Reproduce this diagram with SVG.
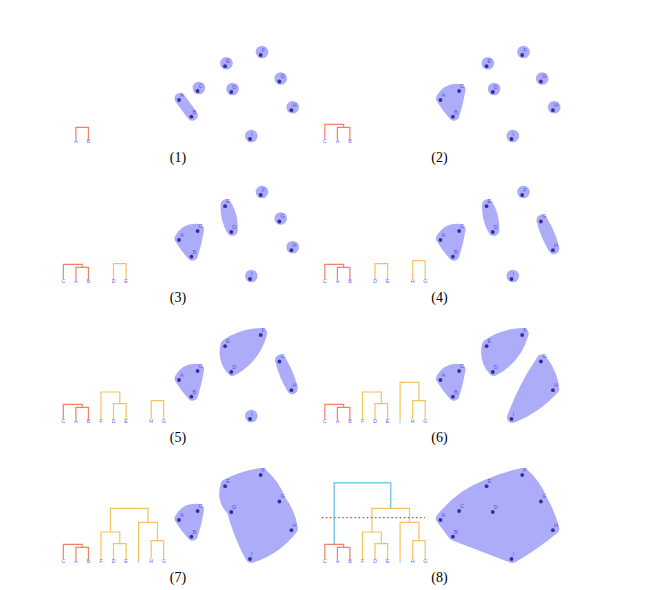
<svg xmlns="http://www.w3.org/2000/svg" width="649" height="590" viewBox="0 0 649 590">
<style>
.hull{fill:#acacf8;stroke:#acacf8;stroke-width:11;stroke-linejoin:round;stroke-linecap:round}
.single{fill:#acacf8}
.dot{fill:#30309a}
.pl{font-family:"Liberation Sans",Arial,sans-serif;font-size:5.6px;fill:#5252f2}
.lf{font-family:"Liberation Sans",Arial,sans-serif;font-size:5.2px;fill:#6464ff;text-anchor:middle}
.red{fill:none;stroke:#f08068;stroke-width:1.2}
.org{fill:none;stroke:#f2c35e;stroke-width:1.2}
.blu{fill:none;stroke:#7ec8ee;stroke-width:1.5}
.cut{fill:none;stroke:#e03a3a;stroke-width:1.3;stroke-dasharray:1.5 2.6}
.cap{font-family:"Liberation Serif","Times New Roman",serif;font-size:14px;fill:#000;text-anchor:middle}
</style>
<rect width="649" height="590" fill="#fff"/>

<!-- Panel 1 -->
<g id="panel1">
<g id="p1-clusters">
<path class="hull" d="M180 98.5 L192.4 115.2 Z"/>
<circle class="single" cx="198.9" cy="88" r="6.3"/>
<circle class="single" cx="232.6" cy="89" r="6.3"/>
<circle class="single" cx="226.4" cy="63.2" r="6.3"/>
<circle class="single" cx="262" cy="52" r="6.3"/>
<circle class="single" cx="280.7" cy="78.5" r="6.3"/>
<circle class="single" cx="292.7" cy="107.2" r="6.3"/>
<circle class="single" cx="251.3" cy="136" r="6.3"/>
</g>
<g id="p1-points">
<circle class="dot" cx="179" cy="100" r="1.9"/><text class="pl" x="180" y="96.9">A</text>
<circle class="dot" cx="191.4" cy="116.7" r="1.9"/><text class="pl" x="192.4" y="113.6">B</text>
<circle class="dot" cx="197.6" cy="91" r="1.9"/><text class="pl" x="198.6" y="87.9">C</text>
<circle class="dot" cx="231.3" cy="92" r="1.9"/><text class="pl" x="232.3" y="88.9">D</text>
<circle class="dot" cx="225.1" cy="66.2" r="1.9"/><text class="pl" x="226.1" y="63.1">E</text>
<circle class="dot" cx="260.7" cy="55" r="1.9"/><text class="pl" x="261.7" y="51.9">F</text>
<circle class="dot" cx="279.4" cy="81.5" r="1.9"/><text class="pl" x="280.4" y="78.4">G</text>
<circle class="dot" cx="291.4" cy="110.2" r="1.9"/><text class="pl" x="292.4" y="107.1">H</text>
<circle class="dot" cx="250" cy="139" r="1.9"/><text class="pl" x="251" y="135.9">I</text>
</g>
<g id="p1-dendrogram">
<path class="red" d="M75.9 139 V127.3 H88.4 V139"/>
<text class="lf" x="75.9" y="142.9">A</text><text class="lf" x="88.4" y="142.9">B</text>
</g>
<text class="cap" x="178" y="162">(1)</text>
</g>

<!-- Panel 2 -->
<g id="panel2" transform="translate(261.5,0)">
<g id="p2-clusters">
<path class="hull" d="M180 98.5 Q186.3 87.7 198.6 89.5 Q196.5 102.6 192.4 115.2 Q185.4 107.4 180 98.5 Z"/>
<circle class="single" cx="232.6" cy="89" r="6.3"/>
<circle class="single" cx="226.4" cy="63.2" r="6.3"/>
<circle class="single" cx="262" cy="52" r="6.3"/>
<circle class="single" cx="280.7" cy="78.5" r="6.3"/>
<circle class="single" cx="292.7" cy="107.2" r="6.3"/>
<circle class="single" cx="251.3" cy="136" r="6.3"/>
</g>
<g id="p2-points">
<circle class="dot" cx="179" cy="100" r="1.9"/><text class="pl" x="180" y="96.9">A</text>
<circle class="dot" cx="191.4" cy="116.7" r="1.9"/><text class="pl" x="192.4" y="113.6">B</text>
<circle class="dot" cx="197.6" cy="91" r="1.9"/><text class="pl" x="198.6" y="87.9">C</text>
<circle class="dot" cx="231.3" cy="92" r="1.9"/><text class="pl" x="232.3" y="88.9">D</text>
<circle class="dot" cx="225.1" cy="66.2" r="1.9"/><text class="pl" x="226.1" y="63.1">E</text>
<circle class="dot" cx="260.7" cy="55" r="1.9"/><text class="pl" x="261.7" y="51.9">F</text>
<circle class="dot" cx="279.4" cy="81.5" r="1.9"/><text class="pl" x="280.4" y="78.4">G</text>
<circle class="dot" cx="291.4" cy="110.2" r="1.9"/><text class="pl" x="292.4" y="107.1">H</text>
<circle class="dot" cx="250" cy="139" r="1.9"/><text class="pl" x="251" y="135.9">I</text>
</g>
<g id="p2-dendrogram">
<path class="red" d="M75.9 139 V127.3 H88.4 V139"/>
<path class="red" d="M63.3 139 V124.3 H82.15 V127.3"/>
<text class="lf" x="63.3" y="142.9">C</text><text class="lf" x="75.9" y="142.9">A</text><text class="lf" x="88.4" y="142.9">B</text>
</g>
<text class="cap" x="178" y="162">(2)</text>
</g>

<!-- Panel 3 -->
<g id="panel3" transform="translate(0,140)">
<g id="p3-clusters">
<path class="hull" d="M180 98.5 Q186.3 87.7 198.6 89.5 Q196.5 102.6 192.4 115.2 Q185.4 107.4 180 98.5 Z"/>
<path class="hull" d="M226.1 64.7 Q233.1 76.7 232.3 90.5 Q225.3 78.5 226.1 64.7 Z"/>
<circle class="single" cx="262" cy="52" r="6.3"/>
<circle class="single" cx="280.7" cy="78.5" r="6.3"/>
<circle class="single" cx="292.7" cy="107.2" r="6.3"/>
<circle class="single" cx="251.3" cy="136" r="6.3"/>
</g>
<g id="p3-points">
<circle class="dot" cx="179" cy="100" r="1.9"/><text class="pl" x="180" y="96.9">A</text>
<circle class="dot" cx="191.4" cy="116.7" r="1.9"/><text class="pl" x="192.4" y="113.6">B</text>
<circle class="dot" cx="197.6" cy="91" r="1.9"/><text class="pl" x="198.6" y="87.9">C</text>
<circle class="dot" cx="231.3" cy="92" r="1.9"/><text class="pl" x="232.3" y="88.9">D</text>
<circle class="dot" cx="225.1" cy="66.2" r="1.9"/><text class="pl" x="226.1" y="63.1">E</text>
<circle class="dot" cx="260.7" cy="55" r="1.9"/><text class="pl" x="261.7" y="51.9">F</text>
<circle class="dot" cx="279.4" cy="81.5" r="1.9"/><text class="pl" x="280.4" y="78.4">G</text>
<circle class="dot" cx="291.4" cy="110.2" r="1.9"/><text class="pl" x="292.4" y="107.1">H</text>
<circle class="dot" cx="250" cy="139" r="1.9"/><text class="pl" x="251" y="135.9">I</text>
</g>
<g id="p3-dendrogram">
<path class="red" d="M75.9 139 V127.3 H88.4 V139"/>
<path class="red" d="M63.3 139 V124.3 H82.15 V127.3"/>
<path class="org" d="M113.5 139 V123.7 H126.1 V139"/>
<text class="lf" x="63.3" y="142.9">C</text><text class="lf" x="75.9" y="142.9">A</text><text class="lf" x="88.4" y="142.9">B</text>
<text class="lf" x="113.5" y="142.9">D</text><text class="lf" x="126.1" y="142.9">E</text>
</g>
<text class="cap" x="178" y="162">(3)</text>
</g>

<!-- Panel 4 -->
<g id="panel4" transform="translate(261.5,140)">
<g id="p4-clusters">
<path class="hull" d="M180 98.5 Q186.3 87.7 198.6 89.5 Q196.5 102.6 192.4 115.2 Q185.4 107.4 180 98.5 Z"/>
<path class="hull" d="M226.1 64.7 Q233.1 76.7 232.3 90.5 Q225.3 78.5 226.1 64.7 Z"/>
<path class="hull" d="M280.4 80 Q288.6 93.4 292.4 108.7 Q284.2 95.3 280.4 80 Z"/>
<circle class="single" cx="262" cy="52" r="6.3"/>
<circle class="single" cx="251.3" cy="136" r="6.3"/>
</g>
<g id="p4-points">
<circle class="dot" cx="179" cy="100" r="1.9"/><text class="pl" x="180" y="96.9">A</text>
<circle class="dot" cx="191.4" cy="116.7" r="1.9"/><text class="pl" x="192.4" y="113.6">B</text>
<circle class="dot" cx="197.6" cy="91" r="1.9"/><text class="pl" x="198.6" y="87.9">C</text>
<circle class="dot" cx="231.3" cy="92" r="1.9"/><text class="pl" x="232.3" y="88.9">D</text>
<circle class="dot" cx="225.1" cy="66.2" r="1.9"/><text class="pl" x="226.1" y="63.1">E</text>
<circle class="dot" cx="260.7" cy="55" r="1.9"/><text class="pl" x="261.7" y="51.9">F</text>
<circle class="dot" cx="279.4" cy="81.5" r="1.9"/><text class="pl" x="280.4" y="78.4">G</text>
<circle class="dot" cx="291.4" cy="110.2" r="1.9"/><text class="pl" x="292.4" y="107.1">H</text>
<circle class="dot" cx="250" cy="139" r="1.9"/><text class="pl" x="251" y="135.9">I</text>
</g>
<g id="p4-dendrogram">
<path class="red" d="M75.9 139 V127.3 H88.4 V139"/>
<path class="red" d="M63.3 139 V124.3 H82.15 V127.3"/>
<path class="org" d="M113.5 139 V123.7 H126.1 V139"/>
<path class="org" d="M151.2 139 V120.7 H163.7 V139"/>
<text class="lf" x="63.3" y="142.9">C</text><text class="lf" x="75.9" y="142.9">A</text><text class="lf" x="88.4" y="142.9">B</text>
<text class="lf" x="113.5" y="142.9">D</text><text class="lf" x="126.1" y="142.9">E</text>
<text class="lf" x="151.2" y="142.9">H</text><text class="lf" x="163.7" y="142.9">G</text>
</g>
<text class="cap" x="178" y="162">(4)</text>
</g>

<!-- Panel 5 -->
<g id="panel5" transform="translate(0,280)">
<g id="p5-clusters">
<path class="hull" d="M180 98.5 Q186.3 87.7 198.6 89.5 Q196.5 102.6 192.4 115.2 Q185.4 107.4 180 98.5 Z"/>
<path class="hull" d="M226.1 64.7 Q242.2 53.8 261.7 53.5 Q254.8 78.2 232.3 90.5 Q222.4 79.2 226.1 64.7 Z"/>
<path class="hull" d="M280.4 80 Q288.6 93.4 292.4 108.7 Q284.2 95.3 280.4 80 Z"/>
<circle class="single" cx="251.3" cy="136" r="6.3"/>
</g>
<g id="p5-points">
<circle class="dot" cx="179" cy="100" r="1.9"/><text class="pl" x="180" y="96.9">A</text>
<circle class="dot" cx="191.4" cy="116.7" r="1.9"/><text class="pl" x="192.4" y="113.6">B</text>
<circle class="dot" cx="197.6" cy="91" r="1.9"/><text class="pl" x="198.6" y="87.9">C</text>
<circle class="dot" cx="231.3" cy="92" r="1.9"/><text class="pl" x="232.3" y="88.9">D</text>
<circle class="dot" cx="225.1" cy="66.2" r="1.9"/><text class="pl" x="226.1" y="63.1">E</text>
<circle class="dot" cx="260.7" cy="55" r="1.9"/><text class="pl" x="261.7" y="51.9">F</text>
<circle class="dot" cx="279.4" cy="81.5" r="1.9"/><text class="pl" x="280.4" y="78.4">G</text>
<circle class="dot" cx="291.4" cy="110.2" r="1.9"/><text class="pl" x="292.4" y="107.1">H</text>
<circle class="dot" cx="250" cy="139" r="1.9"/><text class="pl" x="251" y="135.9">I</text>
</g>
<g id="p5-dendrogram">
<path class="red" d="M75.9 139 V127.3 H88.4 V139"/>
<path class="red" d="M63.3 139 V124.3 H82.15 V127.3"/>
<path class="org" d="M113.5 139 V123.7 H126.1 V139"/>
<path class="org" d="M101 139 V112 H119.8 V123.7"/>
<path class="org" d="M151.2 139 V120.7 H163.7 V139"/>
<text class="lf" x="63.3" y="142.9">C</text><text class="lf" x="75.9" y="142.9">A</text><text class="lf" x="88.4" y="142.9">B</text>
<text class="lf" x="101" y="142.9">F</text><text class="lf" x="113.5" y="142.9">D</text><text class="lf" x="126.1" y="142.9">E</text>
<text class="lf" x="151.2" y="142.9">H</text><text class="lf" x="163.7" y="142.9">G</text>
</g>
<text class="cap" x="178" y="162">(5)</text>
</g>

<!-- Panel 6 -->
<g id="panel6" transform="translate(261.5,280)">
<g id="p6-clusters">
<path class="hull" d="M180 98.5 Q186.3 87.7 198.6 89.5 Q196.5 102.6 192.4 115.2 Q185.4 107.4 180 98.5 Z"/>
<path class="hull" d="M226.1 64.7 Q242.2 53.8 261.7 53.5 Q254.8 78.2 232.3 90.5 Q222.4 79.2 226.1 64.7 Z"/>
<path class="hull" d="M280.4 80 Q290.1 92.8 292.4 108.7 Q275.1 128 251 137.5 Q262.1 106.9 280.4 80 Z"/>
</g>
<g id="p6-points">
<circle class="dot" cx="179" cy="100" r="1.9"/><text class="pl" x="180" y="96.9">A</text>
<circle class="dot" cx="191.4" cy="116.7" r="1.9"/><text class="pl" x="192.4" y="113.6">B</text>
<circle class="dot" cx="197.6" cy="91" r="1.9"/><text class="pl" x="198.6" y="87.9">C</text>
<circle class="dot" cx="231.3" cy="92" r="1.9"/><text class="pl" x="232.3" y="88.9">D</text>
<circle class="dot" cx="225.1" cy="66.2" r="1.9"/><text class="pl" x="226.1" y="63.1">E</text>
<circle class="dot" cx="260.7" cy="55" r="1.9"/><text class="pl" x="261.7" y="51.9">F</text>
<circle class="dot" cx="279.4" cy="81.5" r="1.9"/><text class="pl" x="280.4" y="78.4">G</text>
<circle class="dot" cx="291.4" cy="110.2" r="1.9"/><text class="pl" x="292.4" y="107.1">H</text>
<circle class="dot" cx="250" cy="139" r="1.9"/><text class="pl" x="251" y="135.9">I</text>
</g>
<g id="p6-dendrogram">
<path class="red" d="M75.9 139 V127.3 H88.4 V139"/>
<path class="red" d="M63.3 139 V124.3 H82.15 V127.3"/>
<path class="org" d="M113.5 139 V123.7 H126.1 V139"/>
<path class="org" d="M101 139 V112 H119.8 V123.7"/>
<path class="org" d="M151.2 139 V120.7 H163.7 V139"/>
<path class="org" d="M138.6 139 V102.3 H157.45 V120.7"/>
<text class="lf" x="63.3" y="142.9">C</text><text class="lf" x="75.9" y="142.9">A</text><text class="lf" x="88.4" y="142.9">B</text>
<text class="lf" x="101" y="142.9">F</text><text class="lf" x="113.5" y="142.9">D</text><text class="lf" x="126.1" y="142.9">E</text>
<text class="lf" x="138.6" y="142.9">I</text><text class="lf" x="151.2" y="142.9">H</text><text class="lf" x="163.7" y="142.9">G</text>
</g>
<text class="cap" x="178" y="162">(6)</text>
</g>

<!-- Panel 7 -->
<g id="panel7" transform="translate(0,420)">
<g id="p7-clusters">
<path class="hull" d="M180 98.5 Q186.3 87.7 198.6 89.5 Q196.5 102.6 192.4 115.2 Q185.4 107.4 180 98.5 Z"/>
<path class="hull" d="M226.1 64.7 Q243 56.2 261.7 53.5 Q274.3 64.4 280.4 80 Q290.1 92.8 292.4 108.7 Q276.3 129.7 251 137.5 Q238.9 115.1 232.3 90.5 Q221.4 79.5 226.1 64.7 Z"/>
</g>
<g id="p7-points">
<circle class="dot" cx="179" cy="100" r="1.9"/><text class="pl" x="180" y="96.9">A</text>
<circle class="dot" cx="191.4" cy="116.7" r="1.9"/><text class="pl" x="192.4" y="113.6">B</text>
<circle class="dot" cx="197.6" cy="91" r="1.9"/><text class="pl" x="198.6" y="87.9">C</text>
<circle class="dot" cx="231.3" cy="92" r="1.9"/><text class="pl" x="232.3" y="88.9">D</text>
<circle class="dot" cx="225.1" cy="66.2" r="1.9"/><text class="pl" x="226.1" y="63.1">E</text>
<circle class="dot" cx="260.7" cy="55" r="1.9"/><text class="pl" x="261.7" y="51.9">F</text>
<circle class="dot" cx="279.4" cy="81.5" r="1.9"/><text class="pl" x="280.4" y="78.4">G</text>
<circle class="dot" cx="291.4" cy="110.2" r="1.9"/><text class="pl" x="292.4" y="107.1">H</text>
<circle class="dot" cx="250" cy="139" r="1.9"/><text class="pl" x="251" y="135.9">I</text>
</g>
<g id="p7-dendrogram">
<path class="red" d="M75.9 139 V127.3 H88.4 V139"/>
<path class="red" d="M63.3 139 V124.3 H82.15 V127.3"/>
<path class="org" d="M113.5 139 V123.7 H126.1 V139"/>
<path class="org" d="M101 139 V112 H119.8 V123.7"/>
<path class="org" d="M151.2 139 V120.7 H163.7 V139"/>
<path class="org" d="M138.6 139 V102.3 H157.45 V120.7"/>
<path class="org" d="M110.4 112 V88.3 H148 V102.3"/>
<text class="lf" x="63.3" y="142.9">C</text><text class="lf" x="75.9" y="142.9">A</text><text class="lf" x="88.4" y="142.9">B</text>
<text class="lf" x="101" y="142.9">F</text><text class="lf" x="113.5" y="142.9">D</text><text class="lf" x="126.1" y="142.9">E</text>
<text class="lf" x="138.6" y="142.9">I</text><text class="lf" x="151.2" y="142.9">H</text><text class="lf" x="163.7" y="142.9">G</text>
</g>
<text class="cap" x="178" y="162">(7)</text>
</g>

<!-- Panel 8 -->
<g id="panel8" transform="translate(261.5,420)">
<g id="p8-clusters">
<path class="hull" d="M180 98.5 Q198.3 75.2 226.1 64.7 Q243.3 57.2 261.7 53.5 Q274.3 64.4 280.4 80 Q288.25 93.6 292.4 108.7 Q272.8 124.7 251 137.5 L192.4 115.2 Z"/>
</g>
<g id="p8-points">
<circle class="dot" cx="179" cy="100" r="1.9"/><text class="pl" x="180" y="96.9">A</text>
<circle class="dot" cx="191.4" cy="116.7" r="1.9"/><text class="pl" x="192.4" y="113.6">B</text>
<circle class="dot" cx="197.6" cy="91" r="1.9"/><text class="pl" x="198.6" y="87.9">C</text>
<circle class="dot" cx="231.3" cy="92" r="1.9"/><text class="pl" x="232.3" y="88.9">D</text>
<circle class="dot" cx="225.1" cy="66.2" r="1.9"/><text class="pl" x="226.1" y="63.1">E</text>
<circle class="dot" cx="260.7" cy="55" r="1.9"/><text class="pl" x="261.7" y="51.9">F</text>
<circle class="dot" cx="279.4" cy="81.5" r="1.9"/><text class="pl" x="280.4" y="78.4">G</text>
<circle class="dot" cx="291.4" cy="110.2" r="1.9"/><text class="pl" x="292.4" y="107.1">H</text>
<circle class="dot" cx="250" cy="139" r="1.9"/><text class="pl" x="251" y="135.9">I</text>
</g>
<g id="p8-dendrogram">
<path class="blu" d="M72.7 124.3 V62.7 H129.2 V88.3"/>
<path class="red" d="M75.9 139 V127.3 H88.4 V139"/>
<path class="red" d="M63.3 139 V124.3 H82.15 V127.3"/>
<path class="org" d="M113.5 139 V123.7 H126.1 V139"/>
<path class="org" d="M101 139 V112 H119.8 V123.7"/>
<path class="org" d="M151.2 139 V120.7 H163.7 V139"/>
<path class="org" d="M138.6 139 V102.3 H157.45 V120.7"/>
<path class="org" d="M110.4 112 V88.3 H148 V102.3"/>
<path class="cut" d="M60.2 97.7 H163.5"/>
<text class="lf" x="63.3" y="142.9">C</text><text class="lf" x="75.9" y="142.9">A</text><text class="lf" x="88.4" y="142.9">B</text>
<text class="lf" x="101" y="142.9">F</text><text class="lf" x="113.5" y="142.9">D</text><text class="lf" x="126.1" y="142.9">E</text>
<text class="lf" x="138.6" y="142.9">I</text><text class="lf" x="151.2" y="142.9">H</text><text class="lf" x="163.7" y="142.9">G</text>
</g>
<text class="cap" x="178" y="162">(8)</text>
</g>
</svg>
